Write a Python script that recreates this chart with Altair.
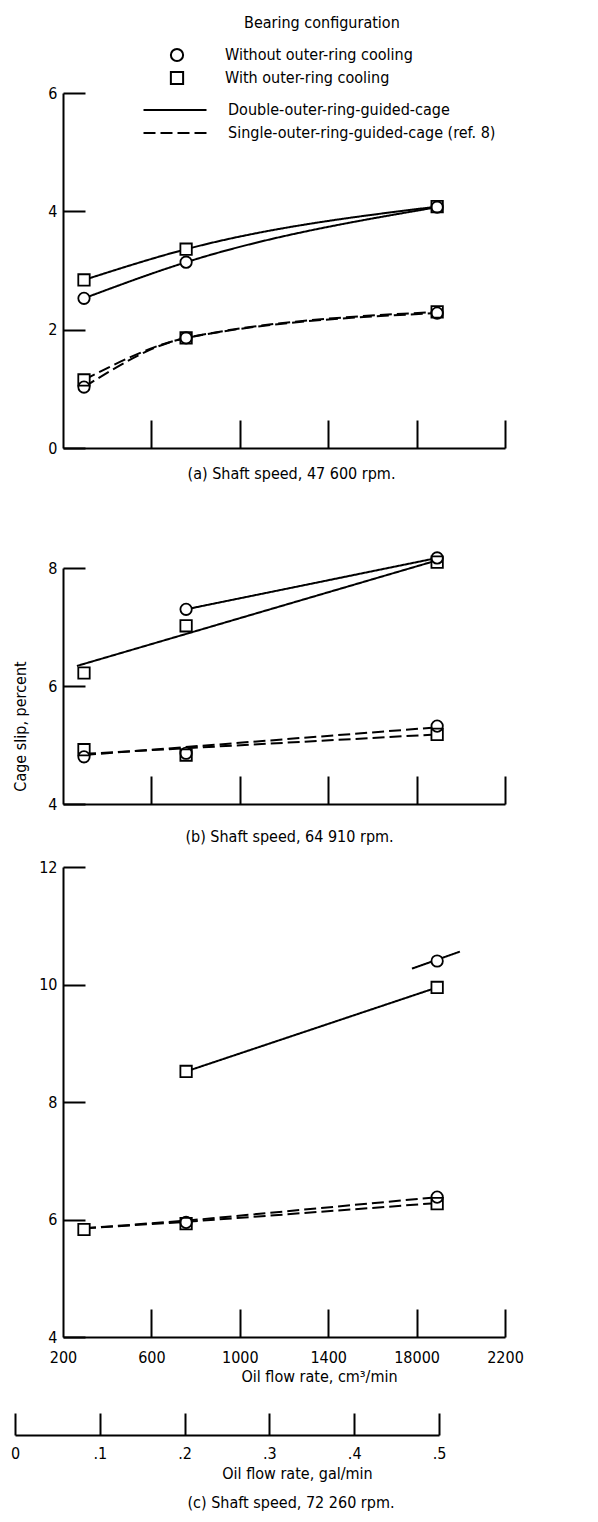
import altair as alt
import pandas as pd

FONT = "Liberation Sans Narrow, DejaVu Sans Condensed, Arial Narrow, sans-serif"
FS = 16
W = 442

COOLING = ["Without outer-ring cooling", "With outer-ring cooling"]
CAGE = ["Double-outer-ring-guided-cage", "Single-outer-ring-guided-cage (ref. 8)"]

FLOW_TICKS = [200, 600, 1000, 1400, 1800, 2200]
FLOW_INNER_TICKS = [600, 1000, 1400, 1800, 2200]
GAL_TICKS = [0, 0.1, 0.2, 0.3, 0.4, 0.5]

flow3 = [295, 757, 1893]

# ---- Panel (a): shaft speed 47 600 rpm ----
a_dbl_without = [2.53, 3.14, 4.07]
a_dbl_with = [2.84, 3.36, 4.08]
a_sgl_without = [1.03, 1.86, 2.28]
a_sgl_with = [1.15, 1.86, 2.30]

# ---- Panel (b): shaft speed 64 910 rpm ----
b_dbl_without_flow = [757, 1893]
b_dbl_without = [7.30, 8.17]
b_dbl_with = [6.22, 7.02, 8.10]
b_sgl_without = [4.80, 4.86, 5.32]
b_sgl_with = [4.92, 4.83, 5.18]
# faired lines (b)
b_fit_dbl_with_flow = [263, 1893]
b_fit_dbl_with = [6.34, 8.13]
b_fit_sgl_flow = [295, 1893]
b_fit_sgl_without = [4.83, 5.30]
b_fit_sgl_with = [4.85, 5.18]

# ---- Panel (c): shaft speed 72 260 rpm ----
c_dbl_with_flow = [757, 1893]
c_dbl_with = [8.52, 9.95]
c_dbl_without_flow = [1893]
c_dbl_without = [10.40]
c_sgl_with = [5.83, 5.93, 6.27]
c_sgl_without_flow = [757, 1893]
c_sgl_without = [5.95, 6.38]
# faired lines (c)
c_fit_dbl_without_flow = [1779, 1996]
c_fit_dbl_without = [10.27, 10.56]
c_fit_sgl_without = [5.85, 5.98, 6.38]
c_fit_sgl_with = [5.85, 5.96, 6.28]


def table(series):
    rows = []
    for name, cool, cage, xs, ys in series:
        for x, y in zip(xs, ys):
            rows.append({"series": name, "cooling": COOLING[cool], "cage": CAGE[cage],
                         "flow": x, "slip": y})
    return pd.DataFrame(rows)


a_pts = table([
    ("dw", 0, 0, flow3, a_dbl_without), ("dc", 1, 0, flow3, a_dbl_with),
    ("sw", 0, 1, flow3, a_sgl_without), ("sc", 1, 1, flow3, a_sgl_with)])
a_lines = a_pts
b_pts = table([
    ("dw", 0, 0, b_dbl_without_flow, b_dbl_without), ("dc", 1, 0, flow3, b_dbl_with),
    ("sw", 0, 1, flow3, b_sgl_without), ("sc", 1, 1, flow3, b_sgl_with)])
b_lines = table([
    ("dw", 0, 0, b_dbl_without_flow, b_dbl_without),
    ("dc", 1, 0, b_fit_dbl_with_flow, b_fit_dbl_with),
    ("sw", 0, 1, b_fit_sgl_flow, b_fit_sgl_without),
    ("sc", 1, 1, b_fit_sgl_flow, b_fit_sgl_with)])
c_pts = table([
    ("dw", 0, 0, c_dbl_without_flow, c_dbl_without), ("dc", 1, 0, c_dbl_with_flow, c_dbl_with),
    ("sw", 0, 1, c_sgl_without_flow, c_sgl_without), ("sc", 1, 1, flow3, c_sgl_with)])
c_lines = table([
    ("dw", 0, 0, c_fit_dbl_without_flow, c_fit_dbl_without),
    ("dc", 1, 0, c_dbl_with_flow, c_dbl_with),
    ("sw", 0, 1, flow3, c_fit_sgl_without),
    ("sc", 1, 1, flow3, c_fit_sgl_with)])

AX = dict(labelFont=FONT, titleFont=FONT, labelFontSize=FS, titleFontSize=FS,
          titleFontWeight="normal", labelColor="black",
          domainColor="black", tickColor="black", grid=False)

SHAPE_SCALE = dict(domain=COOLING, range=["circle", "square"])


def panel(pts, lines, ymin, ymax, yvals, h, interp, caption, cap_x, cap_y,
          xlabels, ytitle_color, ytitle_y, legends=False, title=None):
    xs = alt.Scale(domain=[200, 2200], nice=False, zero=False)
    ys = alt.Scale(domain=[ymin, ymax], nice=False, zero=False)
    x_bottom = alt.Axis(orient="bottom", values=FLOW_TICKS, ticks=False,
                        domain=True, domainWidth=2, labels=xlabels,
                        labelExpr="datum.value == 1800 ? '18000' : format(datum.value, 'd')",
                        labelFlush=False, labelOverlap=False, labelPadding=12,
                        title=caption, titleX=cap_x, titleY=cap_y, titleAlign="center",
                        titleBaseline="top", titleColor="black", **AX)
    x_top = alt.Axis(orient="top", offset=-h, values=FLOW_INNER_TICKS, ticks=True,
                     tickSize=28, tickWidth=2, domain=False, labels=False, title=None, **AX)
    y_left = alt.Axis(orient="left", values=yvals, ticks=False, domain=True,
                      domainWidth=2, labelPadding=6, title="Cage slip, percent",
                      titleColor=ytitle_color, titleX=-43, titleY=ytitle_y, titleAngle=270,
                      titleAlign="center", titleBaseline="middle", **AX)
    y_right = alt.Axis(orient="right", offset=-W, values=yvals, ticks=True, tickSize=22,
                       tickWidth=2, domain=False, labels=False, title=None, **AX)
    if legends:
        dash_leg = alt.Legend(orient="none", legendX=79, legendY=9, title=None,
                              symbolType="stroke", symbolSize=3969, symbolStrokeWidth=2.2,
                              symbolStrokeColor="black", labelFont=FONT, labelFontSize=FS,
                              labelColor="black", labelOffset=20, rowPadding=7,
                              clipHeight=16, labelLimit=400)
        shape_leg = alt.Legend(orient="none", legendX=106, legendY=-46, title=None,
                               symbolSize=150, symbolStrokeWidth=2, labelFont=FONT,
                               labelFontSize=FS, labelColor="black", labelOffset=40,
                               rowPadding=1, labelLimit=400)
    else:
        dash_leg = None
        shape_leg = None
    line = alt.Chart(lines).mark_line(color="black", strokeWidth=2, interpolate=interp).encode(
        x=alt.X("flow:Q", scale=xs, axis=x_bottom),
        y=alt.Y("slip:Q", scale=ys, axis=y_left),
        strokeDash=alt.StrokeDash("cage:N", scale=alt.Scale(domain=CAGE, range=[[1, 0], [12, 5]]),
                                  legend=dash_leg),
        detail="series:N",
    )
    # white interiors that hide the lines behind the open symbols
    under = alt.Chart(pts).mark_point(filled=True, color="white", size=130, opacity=1).encode(
        x=alt.X("flow:Q", scale=xs, axis=None),
        y=alt.Y("slip:Q", scale=ys, axis=None),
        shape=alt.Shape("cooling:N", scale=alt.Scale(**SHAPE_SCALE), legend=None),
    )
    points = alt.Chart(pts).mark_point(filled=False, color="black",
                                       strokeWidth=1.8, size=130, opacity=1).encode(
        x=alt.X("flow:Q", scale=xs, axis=x_top),
        y=alt.Y("slip:Q", scale=ys, axis=y_right),
        shape=alt.Shape("cooling:N", scale=alt.Scale(**SHAPE_SCALE), legend=shape_leg),
    )
    ch = alt.layer(line, under, points).resolve_axis(
        x="independent", y="independent").resolve_scale(shape="independent")
    props = dict(width=W, height=h)
    if title is not None:
        props["title"] = title
    return ch.properties(**props)


title_a = alt.TitleParams("Bearing configuration", anchor="start", frame="group", dx=181,
                          font=FONT, fontSize=FS, fontWeight="normal", color="black", offset=16)
title_b = alt.TitleParams(" ", anchor="start", frame="group", font=FONT, fontSize=FS,
                          color="white", offset=36)

pa = panel(a_pts, a_lines, 0, 6, [0, 2, 4, 6], 355, "monotone",
           "(a) Shaft speed, 47 600 rpm.", 228, 17, False, "white", 170, legends=True, title=title_a)
pb = panel(b_pts, b_lines, 4, 8, [4, 6, 8], 236, "linear",
           "(b) Shaft speed, 64 910 rpm.", 226, 24, False, "black", 158, title=title_b)
pc = panel(c_pts, c_lines, 4, 12, [4, 6, 8, 10, 12], 470, "linear",
           "Oil flow rate, cm\u00b3/min", 256, 31, True, "white", 235)

# ---- secondary flow-rate scale (gal/min), starting left of the cm3 scale ----
GAL_H = 36
GAL_PX_PER_UNIT = 848.0   # scale length of 1 gal/min in pixels
GAL_SHIFT_PX = 48.0       # 0 gal/min sits this far left of the plot's left edge
gs = alt.Scale(domain=[GAL_TICKS[0], GAL_TICKS[-1]], nice=False, zero=False,
               range=[-GAL_SHIFT_PX,
                      -GAL_SHIFT_PX + GAL_PX_PER_UNIT * (GAL_TICKS[-1] - GAL_TICKS[0])])
bs = alt.Scale(domain=[0, 1], nice=False)
gal_df = pd.DataFrame({"gal": GAL_TICKS, "base": [0] * len(GAL_TICKS)})

g_bottom = alt.Axis(orient="bottom", values=GAL_TICKS, ticks=False, domain=True, domainWidth=2,
                    labelExpr="datum.value == 0 ? '0' : replace(format(datum.value, '.1f'), '0.', '.')",
                    labelFlush=False, labelOverlap=False, labelPadding=10,
                    title="Oil flow rate, gal/min", titleX=234, titleY=30, titleAlign="center",
                    titleBaseline="top", titleColor="black", **AX)
g_top = alt.Axis(orient="top", offset=-GAL_H, values=GAL_TICKS, ticks=True, tickSize=22,
                 tickWidth=2, domain=False, labels=False, title=None, **AX)
g1 = alt.Chart(gal_df).mark_point(opacity=0).encode(
    x=alt.X("gal:Q", scale=gs, axis=g_bottom),
    y=alt.Y("base:Q", scale=bs, axis=None))
g2 = alt.Chart(gal_df).mark_point(opacity=0).encode(
    x=alt.X("gal:Q", scale=gs, axis=g_top),
    y=alt.Y("base:Q", scale=bs, axis=None))
title_c = alt.TitleParams("(c) Shaft speed, 72 260 rpm.", orient="bottom", anchor="middle",
                          frame="group", dx=7, offset=14, font=FONT, fontSize=FS,
                          fontWeight="normal", color="black")
gal = alt.layer(g1, g2).resolve_axis(x="independent").properties(
    width=W, height=GAL_H, title=title_c)

chart = alt.concat(pa, pb, pc, gal, columns=1, spacing=15).resolve_scale(
    shape="independent", strokeDash="independent")
chart = chart.properties(padding={"left": 2, "top": 7, "right": 5, "bottom": 5}).configure_view(stroke=None)

chart.save("out.html", embed_options={"renderer": "svg", "actions": False})
